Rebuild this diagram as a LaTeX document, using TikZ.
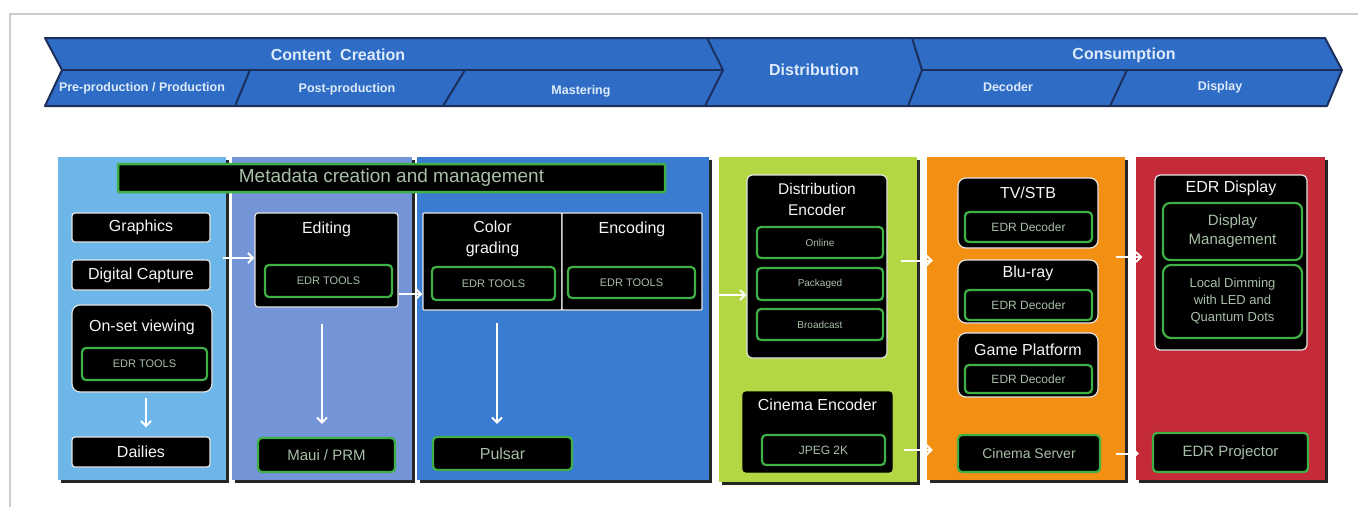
\documentclass[tikz,border=0pt]{standalone}
\usepackage{fontspec}
\setmainfont{Liberation Sans}
\usetikzlibrary{shadows,arrows.meta,calc}
\definecolor{banblue}{HTML}{2F6CC6}
\definecolor{banline}{HTML}{1B2E5C}
\definecolor{bantext}{HTML}{DDEBFA}
\definecolor{pone}{HTML}{6CB6EA}
\definecolor{ptwo}{HTML}{7494D8}
\definecolor{pthree}{HTML}{3A7CD2}
\definecolor{pfour}{HTML}{B2D743}
\definecolor{pfive}{HTML}{F39014}
\definecolor{psix}{HTML}{C42A38}
\definecolor{edrgreen}{HTML}{3FB046}
\definecolor{gtext}{HTML}{A8BFA8}
\begin{document}
\begin{tikzpicture}[x=1pt,y=-1pt,
 panel/.style={draw=none, inner sep=0, drop shadow={shadow xshift=2.5pt, shadow yshift=-2.5pt, fill=black, opacity=0.85}},
 blk/.style={fill=black, draw=white!80!gray, line width=1.2pt, rounded corners=3pt, inner sep=0, text=white!92!gray, font=\fontsize{16}{18}\selectfont},
 grn/.style={fill=black, draw=edrgreen, line width=2.2pt, rounded corners=4pt, inner sep=0, text=gtext, align=center},
 ttl/.style={text=white!92!gray, font=\fontsize{16}{18}\selectfont, align=center, inner sep=0},
 arr/.style={draw=white, line width=2pt, -{Straight Barb[length=5pt,width=10pt]}},
 bantxt/.style={text=bantext, font=\bfseries\fontsize{16}{18}\selectfont, inner sep=0},
 subtxt/.style={text=bantext, font=\bfseries\fontsize{12.5}{14}\selectfont, inner sep=0},
]
\useasboundingbox (0,0) rectangle (1358,507);
\fill[white] (0,0) rectangle (1358,507);
\draw[gray!40, line width=1.5pt] (10,507) -- (10,14) -- (1358,14);

% ---------- banner ----------
\fill[banblue] (45,38) -- (1325,38) -- (1342,70) -- (1327,106) -- (45,106) -- (62,70) -- cycle;
\draw[banline, line width=2pt, line join=round] (45,38) -- (1325,38) -- (1342,70) -- (1327,106) -- (45,106) -- (62,70) -- cycle;
\draw[banline, line width=2pt] (62,70) -- (723,70) (922,70) -- (1342,70);
\draw[banline, line width=2pt, line join=round] (707,38) -- (723,70) -- (705,106);
\draw[banline, line width=2pt, line join=round] (912,38) -- (922,70) -- (908,106);
\draw[banline, line width=2pt] (250,70) -- (235,106) (465,70) -- (443,106) (1127,70) -- (1110,106);
\node[bantxt] (cc) at (338,55) {Content\ \ Creation};
\node[bantxt] (dist) at (814,70) {Distribution};
\node[bantxt] (cons) at (1124,55) {Consumption};
\node[subtxt] (pre) at (142,88) {Pre-production / Production};
\node[subtxt] (post) at (347,89) {Post-production};
\node[subtxt] (mast) at (581,91) {Mastering};
\node[subtxt] (dec) at (1008,87) {Decoder};
\node[subtxt] (disp) at (1220,87) {Display};

% ---------- panels ----------
\node[panel, fill=pone, minimum width=168pt, minimum height=323pt] (p1) at (142,318.5) {};
\node[panel, fill=ptwo, minimum width=180pt, minimum height=323pt] (p2) at (322,318.5) {};
\node[panel, fill=pthree, minimum width=292pt, minimum height=323pt] (p3) at (563,318.5) {};
\node[panel, fill=pfour, minimum width=198pt, minimum height=325pt] (p4) at (818,319.5) {};
\node[panel, fill=pfive, minimum width=198pt, minimum height=323pt] (p5) at (1026,318.5) {};
\node[panel, fill=psix, minimum width=189pt, minimum height=323pt] (p6) at (1230.5,318.5) {};

\node[grn, line width=2.5pt, rounded corners=1pt, minimum width=547pt, minimum height=28pt, font=\fontsize{19}{20}\selectfont] (meta) at (391.5,178) {Metadata creation and management};

% ---------- panel 1 ----------
\node[blk, minimum width=138pt, minimum height=29pt] (graphics) at (141,227.5) {Graphics};
\node[blk, minimum width=138pt, minimum height=30pt] (digcap) at (141,275) {Digital Capture};
\node[blk, rounded corners=8pt, minimum width=140pt, minimum height=87pt] (onset) at (142,348.5) {};
\node[ttl] (onsetT) at (142,327) {On-set viewing};
\node[grn, minimum width=125pt, minimum height=32pt, font=\fontsize{11}{12}\selectfont] (onsetE) at (144.5,364) {EDR TOOLS};
\node[blk, minimum width=138pt, minimum height=30pt] (dailies) at (141,452) {Dailies};
\draw[arr, shorten <=5pt, shorten >=9pt] (onset.south -| 146,0) -- (dailies.north -| 146,0);

% ---------- panel 2 ----------
\node[blk, minimum width=143pt, minimum height=94pt] (editing) at (326.5,260) {};
\node[ttl] (editingT) at (326.5,229) {Editing};
\node[grn, minimum width=127pt, minimum height=32pt, font=\fontsize{11}{12}\selectfont] (editingE) at (328.5,281) {EDR TOOLS};
\node[grn, minimum width=137pt, minimum height=34pt, font=\fontsize{15}{16}\selectfont] (maui) at (326.5,455) {Maui / PRM};
\draw[arr, shorten <=-3pt] ([yshift=2pt]p1.east |- editing.west) -- ([yshift=2pt]editing.west);
\draw[arr, shorten <=16pt, shorten >=13pt] (editing.south -| 322,0) -- (maui.north -| 322,0);

% ---------- panel 3 ----------
\node[blk, rounded corners=1pt, minimum width=139pt, minimum height=97pt] (cg) at (492.5,261.5) {};
\node[blk, rounded corners=1pt, minimum width=140pt, minimum height=97pt] (enc) at (632,261.5) {};
\node[ttl, font=\fontsize{16}{21}\selectfont] (cgT) at (492.5,239) {Color\\grading};
\node[ttl] (encT) at (632,229) {Encoding};
\node[grn, minimum width=123pt, minimum height=33pt, font=\fontsize{11}{12}\selectfont] (cgE) at (493.5,283.5) {EDR TOOLS};
\node[grn, minimum width=127pt, minimum height=31pt, font=\fontsize{11}{12}\selectfont] (encE) at (631.5,282.5) {EDR TOOLS};
\node[grn, minimum width=139pt, minimum height=33pt, font=\fontsize{16}{17}\selectfont] (pulsar) at (502.5,453.5) {Pulsar};
\draw[arr] ([yshift=-34pt]editing.east) -- ([yshift=-34pt]editing.east -| cg.west);
\draw[arr, shorten <=12pt, shorten >=12pt] (cg.south -| 497,0) -- (pulsar.north -| 497,0);

% ---------- panel 4 ----------
\node[blk, rounded corners=5pt, minimum width=140pt, minimum height=183pt] (distenc) at (817,266.5) {};
\node[ttl, font=\fontsize{15.5}{21}\selectfont] (distencT) at (817,199) {Distribution\\Encoder};
\node[grn, minimum width=126pt, minimum height=31pt, font=\fontsize{10}{11}\selectfont] (online) at (820,242.5) {Online};
\node[grn, minimum width=126pt, minimum height=32pt, font=\fontsize{10}{11}\selectfont] (packaged) at (820,284) {Packaged};
\node[grn, minimum width=126pt, minimum height=31pt, font=\fontsize{10}{11}\selectfont] (broadcast) at (820,324.5) {Broadcast};
\node[blk, draw=black, rounded corners=3pt, minimum width=149pt, minimum height=80pt] (cinenc) at (817.5,432) {};
\node[ttl] (cinencT) at (817.5,405) {Cinema Encoder};
\node[grn, minimum width=123pt, minimum height=30pt, font=\fontsize{12}{13}\selectfont] (jpeg) at (823.5,450) {JPEG 2K};
\coordinate (a3) at (714,295);
\draw[arr] (a3) -- (a3 -| distenc.west);

% ---------- panel 5 ----------
\node[blk, rounded corners=8pt, minimum width=140pt, minimum height=70pt] (tvstb) at (1028,213) {};
\node[ttl] (tvstbT) at (1028,193) {TV/STB};
\node[grn, minimum width=127pt, minimum height=30pt, font=\fontsize{12}{13}\selectfont] (tvstbE) at (1028.5,227) {EDR Decoder};
\node[blk, rounded corners=8pt, minimum width=140pt, minimum height=63pt] (bluray) at (1028,291.5) {};
\node[ttl] (blurayT) at (1028,273) {Blu-ray};
\node[grn, minimum width=127pt, minimum height=30pt, font=\fontsize{12}{13}\selectfont] (blurayE) at (1028.5,305) {EDR Decoder};
\node[blk, rounded corners=8pt, minimum width=140pt, minimum height=64pt] (game) at (1028,365) {};
\node[ttl] (gameT) at (1028,350) {Game Platform};
\node[grn, minimum width=127pt, minimum height=28pt, font=\fontsize{12}{13}\selectfont] (gameE) at (1028.5,379) {EDR Decoder};
\node[grn, minimum width=142pt, minimum height=37pt, font=\fontsize{14}{15}\selectfont] (cineserv) at (1029,453.5) {Cinema Server};
\draw[arr, shorten <=13pt, shorten >=-6pt] ([yshift=6pt]distenc.east) -- ([yshift=6pt]distenc.east -| p5.west);
\draw[arr, shorten <=11pt, shorten >=-6pt] (jpeg.east -| cinenc.east) -- (jpeg.east -| p5.west);

% ---------- panel 6 ----------
\node[blk, rounded corners=5pt, minimum width=152pt, minimum height=175pt] (edrdisp) at (1231,262.5) {};
\node[ttl] (edrdispT) at (1231,188) {EDR Display};
\node[grn, rounded corners=7pt, minimum width=139pt, minimum height=57pt, font=\fontsize{15}{19}\selectfont] (dispman) at (1232.5,231.5) {Display\\Management};
\node[grn, rounded corners=8pt, minimum width=139pt, minimum height=73pt, font=\fontsize{13}{17}\selectfont] (localdim) at (1232.5,301.5) {Local Dimming\\with LED and\\Quantum Dots};
\node[grn, minimum width=155pt, minimum height=39pt, font=\fontsize{15}{16}\selectfont] (edrproj) at (1230.5,452.5) {EDR Projector};
\coordinate (a5) at (1116,257);
\draw[arr, shorten >=12pt] (a5) -- (a5 -| edrdisp.west);
\draw[arr, shorten <=15pt, shorten >=13pt] (cineserv.east) -- (cineserv.east -| edrproj.west);
\end{tikzpicture}
\end{document}
